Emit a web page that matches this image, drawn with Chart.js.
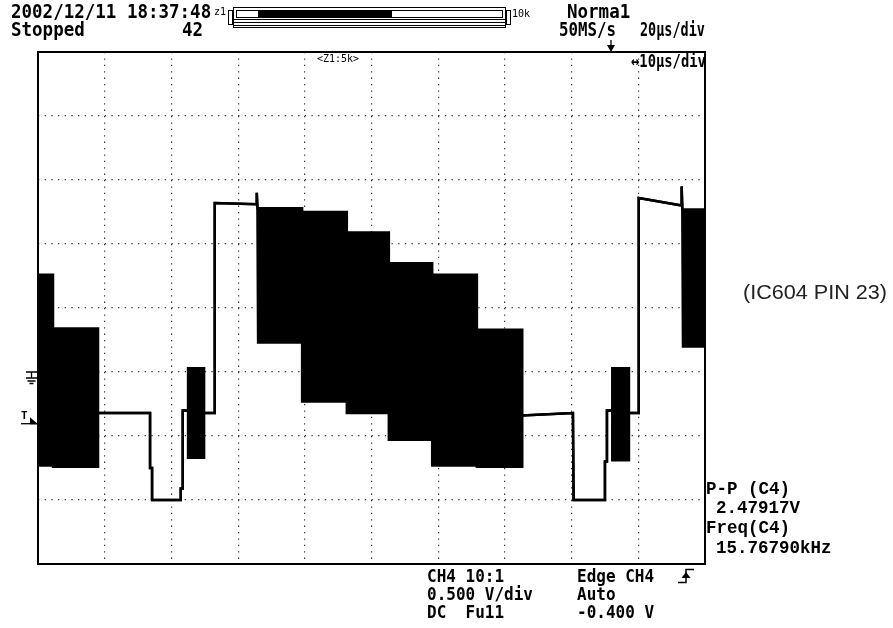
<!DOCTYPE html>
<html>
<head>
<meta charset="utf-8">
<script src="https://cdn.jsdelivr.net/npm/chart.js@4.4.1/dist/chart.umd.min.js"></script>
<style>
  html, body { margin: 0; padding: 0; background: #fff; }
  #wrap { position: relative; width: 893px; height: 628px; overflow: hidden; }
  canvas { position: absolute; left: 0; top: 0; }
  .t { position: absolute; white-space: pre; font-family: "DejaVu Sans Mono", "Liberation Mono", monospace; font-weight: bold; color: #000; line-height: 1; transform-origin: 0 0; }
  .h { font-size: 17.5px; transform: scaleY(1.08); }
  .b { font-size: 16px; transform: scaleY(1.08); }
  .r { font-family: "Liberation Mono", "DejaVu Sans Mono", monospace; font-size: 17.5px; }
  .s { font-size: 10px; font-weight: normal; }
  .lab { position: absolute; white-space: pre; font-family: "Liberation Sans", Arial, sans-serif; font-size: 20px; color: #222; line-height: 1; transform-origin: 0 0; transform: scaleX(1.08); }
</style>
</head>
<body>
<div id="wrap">
  <canvas id="c" width="893" height="628"></canvas>

  <div class="t h" style="left:11px;top:3px;">2002/12/11 18:37:48</div>
  <div class="t s" style="left:214px;top:7px;">z1</div>
  <div class="t s" style="left:512px;top:9px;">10k</div>
  <div class="t h" style="left:567px;top:3px;">Norma1</div>
  <div class="t h" style="left:11px;top:21px;">Stopped</div>
  <div class="t h" style="left:182px;top:21px;">42</div>
  <div class="t h" style="left:559px;top:21px;transform:scaleX(0.9) scaleY(1.08);">50MS/s</div>
  <div class="t h" style="left:640px;top:21px;transform:scaleX(0.77) scaleY(1.08);">20µs/div</div>
  <div class="t s" style="left:317px;top:54px;">&lt;Z1:5k&gt;</div>
  <div class="t h" style="left:631px;top:53px;transform:scaleX(0.79) scaleY(1.0);">↔10µs/div</div>

  <div class="t b" style="left:427px;top:568px;">CH4 10:1</div>
  <div class="t b" style="left:427px;top:586px;">0.500 V/div</div>
  <div class="t b" style="left:427px;top:604px;">DC  Fu11</div>
  <div class="t b" style="left:577px;top:568px;">Edge CH4</div>
  <div class="t b" style="left:577px;top:586px;">Auto</div>
  <div class="t b" style="left:577px;top:604px;">-0.400 V</div>

  <div class="t r" style="left:706px;top:481px;">P-P (C4)</div>
  <div class="t r" style="left:716px;top:500px;">2.47917V</div>
  <div class="t r" style="left:706px;top:520px;">Freq(C4)</div>
  <div class="t r" style="left:716px;top:540px;">15.76790kHz</div>

  <div class="lab" style="left:743px;top:282px;">(IC604 PIN 23)</div>
  <div class="t" style="left:21px;top:410px;font-size:11px;">T</div>
</div>
<script>
// ---- data (time in µs, voltage in V; 10 µs/div, 0.5 V/div) ----
const timeUs = [0, 2.25, 2.25, 9.0, 9.0, 16.8, 16.8, 17.1, 17.1, 21.4, 21.4, 21.7, 21.7, 22.5, 22.5, 24.9, 24.9, 26.5, 26.5, 32.8, 32.8, 32.9, 33.0, 39.6, 39.6, 46.3, 46.3, 52.6, 52.6, 59.1, 59.1, 65.8, 65.8, 72.6, 72.6, 80.2, 80.3, 85.0, 85.0, 85.3, 85.3, 86.1, 86.1, 88.6, 88.6, 90.0, 90.0, 90.1, 90.1, 96.5, 96.5, 96.6, 96.7, 100];
const upperV = [0.76, 0.76, 0.34, 0.34, -0.32, -0.32, -0.75, -0.75, -1.0, -1.0, -0.91, -0.91, -0.30, -0.30, 0.03, 0.03, -0.32, -0.32, 1.32, 1.31, 1.40, 1.28, 1.28, 1.28, 1.25, 1.25, 1.09, 1.09, 0.85, 0.85, 0.76, 0.76, 0.33, 0.33, -0.34, -0.32, -1.0, -1.0, -0.70, -0.70, -0.30, -0.30, 0.03, 0.03, -0.32, -0.32, -0.06, -0.06, 1.36, 1.30, 1.45, 1.27, 1.27, 1.27];
const lowerV = [-0.73, -0.73, -0.74, -0.74, -0.32, -0.32, -0.75, -0.75, -1.0, -1.0, -0.91, -0.91, -0.30, -0.30, -0.67, -0.67, -0.32, -0.32, 1.32, 1.31, 1.40, 1.28, 0.23, 0.23, -0.23, -0.23, -0.32, -0.32, -0.53, -0.53, -0.73, -0.73, -0.74, -0.74, -0.34, -0.32, -1.0, -1.0, -0.70, -0.70, -0.30, -0.30, -0.69, -0.69, -0.32, -0.32, -0.06, -0.06, 1.36, 1.30, 1.45, 1.27, 0.20, 0.20];
const xRange = [0, 100];      // µs
const yRange = [-1.5, 2.5];   // V (ground at 0)

const upperPts = timeUs.map((t, i) => ({ x: t, y: upperV[i] }));
const lowerPts = timeUs.map((t, i) => ({ x: t, y: lowerV[i] }));

const decor = {
  id: 'decor',
  afterDraw(chart) {
    const ctx = chart.ctx, a = chart.chartArea;
    ctx.save();
    // frame
    ctx.strokeStyle = '#000';
    ctx.lineWidth = 2;
    ctx.strokeRect(a.left, a.top, a.right - a.left, a.bottom - a.top);
    // ground marker
    const gy = chart.scales.y.getPixelForValue(0);
    ctx.lineWidth = 1.3;
    ctx.beginPath();
    ctx.moveTo(26, gy); ctx.lineTo(a.left, gy);
    ctx.moveTo(31.5, gy); ctx.lineTo(31.5, gy + 6);
    ctx.moveTo(26, gy + 6); ctx.lineTo(37, gy + 6);
    ctx.moveTo(27.5, gy + 9); ctx.lineTo(35.5, gy + 9);
    ctx.moveTo(29.5, gy + 11.5); ctx.lineTo(33.5, gy + 11.5);
    ctx.stroke();
    // trigger level marker (arrow)
    const ty = chart.scales.y.getPixelForValue(-0.4);
    ctx.beginPath();
    ctx.moveTo(21, ty + 0.5); ctx.lineTo(a.left, ty + 0.5);
    ctx.stroke();
    ctx.fillStyle = '#000';
    ctx.beginPath();
    ctx.moveTo(30, ty - 6); ctx.lineTo(a.left, ty + 1); ctx.lineTo(30, ty + 1); ctx.closePath();
    ctx.fill();
    // trigger position marker on top
    ctx.beginPath();
    ctx.moveTo(607, 45); ctx.lineTo(615, 45); ctx.lineTo(611, 52); ctx.closePath();
    ctx.fill();
    ctx.beginPath();
    ctx.moveTo(611, 40); ctx.lineTo(611, 46); ctx.stroke();
    // header record bar
    ctx.lineWidth = 1;
    ctx.strokeRect(228.5, 10.5, 4, 14);
    ctx.strokeRect(233.5, 7.5, 272, 20);
    ctx.beginPath();
    ctx.moveTo(233.5, 19.5); ctx.lineTo(505.5, 19.5);
    ctx.moveTo(233.5, 22.5); ctx.lineTo(505.5, 22.5);
    ctx.moveTo(233.5, 25.5); ctx.lineTo(505.5, 25.5);
    ctx.stroke();
    ctx.strokeRect(236.5, 10.5, 266, 7);
    ctx.fillRect(258, 11, 134, 6);
    ctx.strokeRect(506.5, 10.5, 4, 14);
    // trigger slope symbol (rising edge)
    ctx.lineWidth = 1.5;
    ctx.beginPath();
    ctx.moveTo(678, 582.5); ctx.lineTo(686, 582.5); ctx.lineTo(686, 569.5); ctx.lineTo(694, 569.5);
    ctx.stroke();
    ctx.beginPath();
    ctx.moveTo(681.5, 578); ctx.lineTo(686, 572); ctx.lineTo(690.5, 578); ctx.closePath();
    ctx.fill();
    ctx.restore();
  }
};

new Chart(document.getElementById('c'), {
  type: 'line',
  data: {
    datasets: [
      { data: upperPts, borderColor: '#000', borderWidth: 2.5, pointRadius: 0, fill: false, tension: 0 },
      { data: lowerPts, borderColor: '#000', borderWidth: 2.5, pointRadius: 0, fill: '-1', backgroundColor: '#000', tension: 0 }
    ]
  },
  options: {
    responsive: false,
    devicePixelRatio: 1,
    animation: false,
    events: [],
    layout: { padding: { left: 38, top: 52, right: 188, bottom: 64 } },
    plugins: { legend: { display: false }, tooltip: { enabled: false } },
    scales: {
      x: {
        type: 'linear', min: xRange[0], max: xRange[1],
        ticks: { display: false, stepSize: 10 },
        grid: { color: '#333', lineWidth: 1.2, drawTicks: false },
        border: { display: false, dash: [1.3, 5.1] }
      },
      y: {
        type: 'linear', min: yRange[0], max: yRange[1],
        ticks: { display: false, stepSize: 0.5 },
        grid: { color: '#333', lineWidth: 1.2, drawTicks: false },
        border: { display: false, dash: [1.3, 5.37] }
      }
    }
  },
  plugins: [decor]
});
</script>
</body>
</html>
